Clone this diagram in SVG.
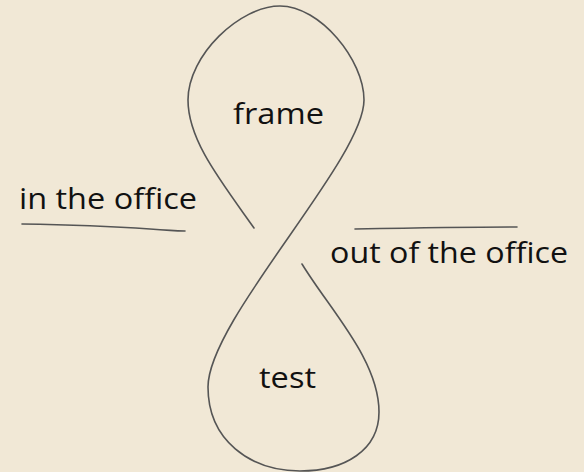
<svg xmlns="http://www.w3.org/2000/svg" width="584" height="472" viewBox="0 0 584 472">
  <style>
    .ln { fill: none; stroke: #555555; stroke-width: 1.6; stroke-linecap: round; }
    .lbl { font-family: "Open Sans", "Liberation Sans", sans-serif; font-size: 29px; fill: #111111; }
  </style>
  <rect width="584" height="472" fill="#f1e8d6"/>
  <g id="connectors">
    <path class="ln" d="M254,228 C220,180 188,140 188,100 C188,55 240,6 280,6 C320,6 364,60 364,100 C364,160 208,320 208,387 C208,440 250,471 300,471 C345,471 379,450 379,412 C379,360 330,310 302,264"/>
    <path class="ln" d="M22,224 C80,225 120,227 150,229 S175,231 185,231"/>
    <path class="ln" d="M355,229 C410,228 470,227 517,227"/>
  </g>
  <g id="frame">
    <text class="lbl" x="233" y="124" textLength="91" lengthAdjust="spacingAndGlyphs">frame</text>
  </g>
  <g id="test">
    <text class="lbl" x="259" y="388" textLength="57" lengthAdjust="spacingAndGlyphs">test</text>
  </g>
  <g id="in-the-office">
    <text class="lbl" x="19" y="209" textLength="178" lengthAdjust="spacingAndGlyphs">in the office</text>
  </g>
  <g id="out-of-the-office">
    <text class="lbl" x="330" y="263" textLength="238" lengthAdjust="spacingAndGlyphs">out of the office</text>
  </g>
</svg>
